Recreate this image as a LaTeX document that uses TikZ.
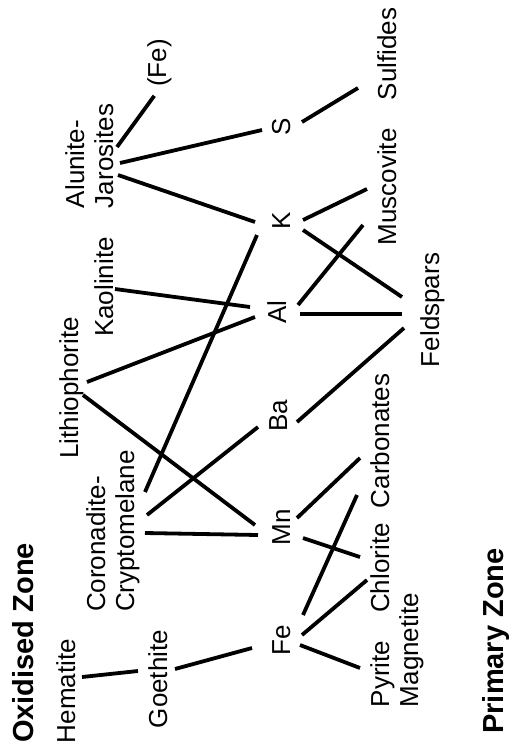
\documentclass[tikz,border=0pt]{standalone}
\usepackage{fontspec}
\setmainfont{Liberation Sans}
\tikzset{
  lbl/.style={rotate=90, anchor=base, inner sep=0pt, outer sep=0pt,
    text height=19pt, text depth=5.5pt, font=\fontsize{26}{29}\selectfont},
  zone/.style={rotate=90, anchor=base, inner sep=0pt, outer sep=0pt,
    font=\fontsize{29}{32}\selectfont\bfseries},
  link/.style={line width=3.8pt, black}
}
\begin{document}
\begin{tikzpicture}[x=1pt, y=-1pt]
\useasboundingbox[fill=white] (0,0) rectangle (509,753);
% zone titles
\node[zone] (oxz) at (34,643) {Oxidised Zone};
\node[zone] (prz) at (503,641) {Primary Zone};
% oxidised-zone minerals
\node[lbl] (hem) at (75,691) {Hematite};
\node[lbl] (goe) at (167,679) {Goethite};
\node[lbl] (cor) at (105,544) {Coronadite-};
\node[lbl] (cry) at (134,531) {Cryptomelane};
\node[lbl] (lit) at (78,388) {Lithiophorite};
\node[lbl] (kao) at (113,287) {Kaolinite};
\node[lbl] (alu) at (84,164) {Alunite-};
\node[lbl] (jar) at (113,156) {Jarosites};
\node[lbl] (fex) at (166,63) {(Fe)};
% elements
\node[lbl] (S) at (290,127) {S};
\node[lbl] (K) at (290,221) {K};
\node[lbl] (Al) at (286,312) {Al};
\node[lbl] (Ba) at (287,416) {Ba};
\node[lbl] (Mn) at (290,527) {Mn};
\node[lbl] (Fe) at (290,640) {Fe};
% primary-zone minerals
\node[lbl] (sul) at (396,54) {Sulfides};
\node[lbl] (mus) at (396,187) {Muscovite};
\node[lbl] (fel) at (439,310) {Feldspars};
\node[lbl] (car) at (389,441) {Carbonates};
\node[lbl] (chl) at (389,568) {Chlorite};
\node[lbl] (pyr) at (389,674) {Pyrite};
\node[lbl] (mag) at (418,650) {Magnetite};
% connectors
\draw[link] ([xshift=1.5,yshift=14]hem.south) -- ([xshift=-10,yshift=8]goe.north);
\draw[link] ([xshift=2.5,yshift=10]goe.south) -- ([xshift=-19,yshift=-8]Fe.north);
\draw[link] ([xshift=5.5,yshift=-2]cry.south) -- ([xshift=-13,yshift=-8]Mn.north);
\draw[link] ([xshift=5.5,yshift=39]cry.south) -- ([xshift=-14,yshift=-14]K.north);
\draw[link] ([xshift=7.5,yshift=16]cry.south) -- ([xshift=-10,yshift=-11]Ba.north);
\draw[link] ([xshift=3.5,yshift=6]lit.south) -- ([xshift=-12,yshift=-5]Al.north);
\draw[link] ([xshift=-0.5,yshift=-7]lit.south) -- ([xshift=-16,yshift=2]Mn.north);
\draw[link] ([xshift=-3.5,yshift=-2]kao.south) -- ([xshift=-17,yshift=5]Al.north);
\draw[link] ([xshift=-1.5,yshift=9]jar.south) -- ([xshift=-5,yshift=-9]fex.west);
\draw[link] ([xshift=1.5,yshift=-7]jar.south) -- ([xshift=-9,yshift=-3]S.north);
\draw[link] ([xshift=-0.5,yshift=-19]jar.south) -- ([xshift=-16,yshift=-1]K.north);
\draw[link] ([xshift=6.5,yshift=5]S.south) -- ([xshift=-19,yshift=-34]sul.north);
\draw[link] ([xshift=7.5,yshift=1]K.south) -- ([xshift=-10,yshift=-2]mus.north);
\draw[link] ([xshift=7.5,yshift=-9]K.south) -- ([xshift=-18,yshift=13]fel.north);
\draw[link] ([xshift=6.5,yshift=7]Al.south) -- ([xshift=-14,yshift=-38]mus.north);
\draw[link] ([xshift=8.5,yshift=-2]Al.south) -- ([xshift=-18,yshift=-4]fel.north);
\draw[link] ([xshift=4.5,yshift=-6]Ba.south) -- ([xshift=-16,yshift=-18]fel.north);
\draw[link] ([xshift=1.5,yshift=9]Mn.south) -- ([xshift=-10,yshift=-17]car.north);
\draw[link] ([xshift=7.5,yshift=-11]Mn.south) -- ([xshift=-10,yshift=11]chl.north);
\draw[link] ([xshift=7.5,yshift=25]Fe.south) -- ([xshift=-13,yshift=-54]car.north);
\draw[link] ([xshift=6.5,yshift=5]Fe.south) -- ([xshift=-3,yshift=-12]chl.north);
\draw[link] ([xshift=4.5,yshift=-5]Fe.south) -- ([xshift=-10,yshift=6]pyr.north);
\end{tikzpicture}
\end{document}
